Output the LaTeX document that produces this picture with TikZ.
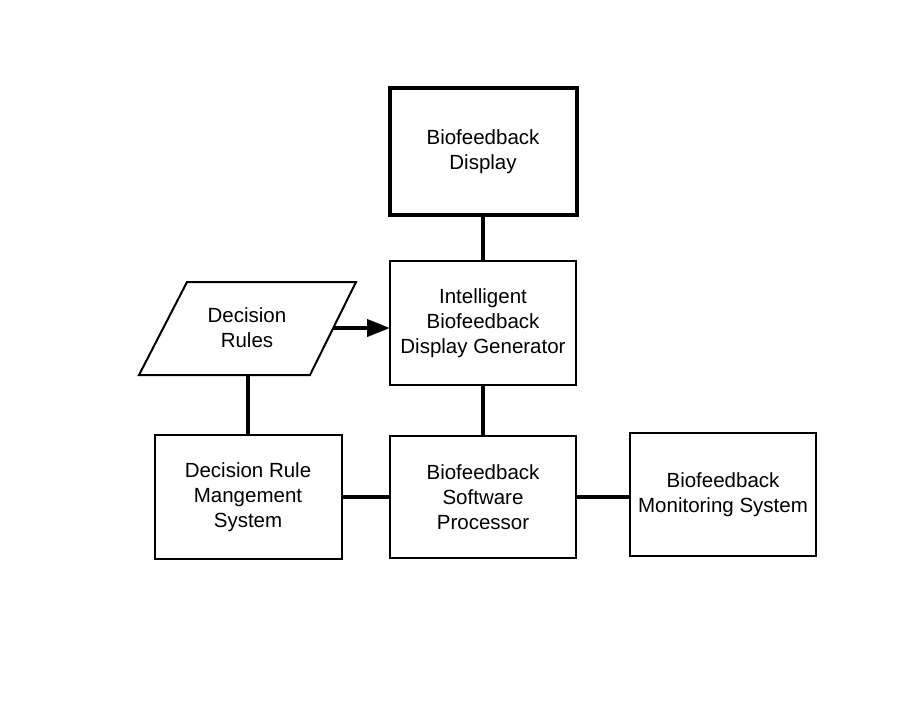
\documentclass[tikz,border=0pt]{standalone}
\usepackage{fontspec}
\setmainfont{Liberation Sans}
\usetikzlibrary{arrows.meta}
\begin{document}
\begin{tikzpicture}[x=1pt,y=-1pt,
  box/.style={draw,line width=2pt,align=center,inner sep=0pt,outer sep=0pt,
    minimum width=186pt,minimum height=124pt,font=\fontsize{20.5}{25}\selectfont},
  thickbox/.style={box,line width=4pt},
  conn/.style={line width=4pt},
  arr/.style={line width=4pt,-{Triangle[length=23pt,width=17pt]}},
  lbl/.style={align=center,inner sep=0pt,font=\fontsize{20.5}{25}\selectfont}]
\useasboundingbox[fill=white] (0,0) rectangle (920,702);
\node[thickbox,minimum width=187pt,minimum height=127pt] (disp) at (483,151.5) {Biofeedback\\Display};
\node[box] (igen) at (483,323) {Intelligent\\Biofeedback\\Display Generator};
\node[box,minimum width=187pt,minimum height=124pt] (drm) at (248,497) {Decision Rule\\Mangement\\System};
\node[box,minimum height=122pt] (bsp) at (483,497) {Biofeedback\\Software\\Processor};
\node[box,minimum height=123pt] (bms) at (723,494.5) {Biofeedback\\Monitoring System};
\draw[line width=2pt,line join=miter] (187,282) -- (356,282) -- (310,375) -- (139,375) -- cycle;
\node[lbl] (dr) at (247,328) {Decision\\Rules};
\coordinate (drr) at (333,328);
\coordinate (drb) at (248,375);
\draw[conn] (disp.south) -- (igen.north);
\draw[conn] (igen.south) -- (bsp.north);
\draw[conn] (drb) -- (drm.north);
\draw[conn] (drm.east) -- (drm.east -| bsp.west);
\draw[conn] (bsp.east) -- (bsp.east -| bms.west);
\draw[arr] (drr) -- (drr -| igen.west);
\end{tikzpicture}
\end{document}
